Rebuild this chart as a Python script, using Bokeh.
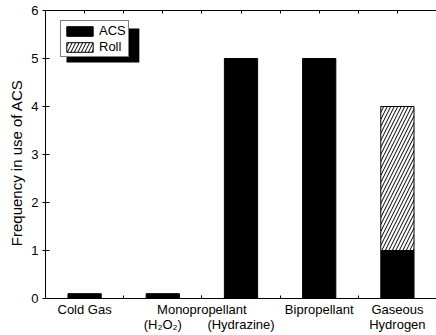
from bokeh.plotting import figure
from bokeh.models import (LinearAxis, FixedTicker, Range1d, Legend, LegendItem,
                          BoxAnnotation, ColumnDataSource)
from bokeh.embed import file_html
from bokeh.resources import INLINE

# ---- data ----
categories = ["Cold Gas", "Monopropellant (H\u2082O\u2082)", "Monopropellant (Hydrazine)",
              "Bipropellant", "Gaseous Hydrogen"]
acs = [0.1, 0.1, 5, 5, 1]
roll = [0, 0, 0, 0, 3]
tick_labels = {1: "Cold Gas", 3: "\n(H\u2082O\u2082)", 4: "Monopropellant",
               5: "\n(Hydrazine)", 7: "Bipropellant", 9: "Gaseous\nHydrogen"}
y_ticks = [0, 1, 2, 3, 4, 5, 6]
x_minor = list(range(0, 11))
y_title = "Frequency in use of ACS"

FONT = "Liberation Sans"
xpos = [1 + 2 * i for i in range(len(categories))]

p = figure(width=436, height=335, x_range=Range1d(0, 10), y_range=Range1d(0, 6),
           output_backend="svg", toolbar_location=None,
           min_border_left=45, min_border_right=0, min_border_top=10, min_border_bottom=37)
p.outline_line_color = None
p.xgrid.visible = False
p.ygrid.visible = False
p.background_fill_color = "white"

src_acs = ColumnDataSource(dict(x=xpos, top=acs, bottom=[0] * len(acs)))
r_acs = p.vbar(x="x", top="top", bottom="bottom", width=0.85, source=src_acs,
               fill_color="black", line_color="black", line_width=1)

rx = [x for x, r in zip(xpos, roll) if r > 0]
rb = [a for a, r in zip(acs, roll) if r > 0]
rt = [a + r for a, r in zip(acs, roll) if r > 0]
src_roll = ColumnDataSource(dict(x=rx, top=rt, bottom=rb))
r_roll = p.vbar(x="x", top="top", bottom="bottom", width=0.85, source=src_roll,
                fill_color="white", line_color="black", line_width=1,
                hatch_pattern="/", hatch_color="black", hatch_scale=7, hatch_weight=1)

# x axis (bottom)
xa = p.xaxis[0]
xa.ticker = FixedTicker(ticks=sorted(tick_labels.keys()), minor_ticks=x_minor)
xa.major_label_overrides = dict(tick_labels)
xa.major_tick_in = 3
xa.major_tick_out = 0
xa.minor_tick_in = 3
xa.minor_tick_out = 0
xa.major_label_standoff = 3
xa.major_label_text_font = FONT
xa.major_label_text_font_size = "13px"
xa.major_label_text_line_height = 1.0
xa.major_label_text_color = "black"
xa.axis_line_color = "black"
xa.major_tick_line_color = "black"
xa.minor_tick_line_color = "black"

# y axis
ya = p.yaxis[0]
ya.ticker = FixedTicker(ticks=y_ticks)
ya.major_tick_in = 4
ya.major_tick_out = 3
ya.minor_tick_line_color = None
ya.major_label_standoff = 4
ya.major_label_text_font = FONT
ya.major_label_text_font_size = "13px"
ya.major_label_text_color = "black"
ya.axis_label = y_title + "\u00a0" * 4
ya.axis_label_text_font = FONT
ya.axis_label_text_font_size = "15px"
ya.axis_label_text_font_style = "normal"
ya.axis_label_text_color = "black"
ya.axis_label_standoff = 3
ya.axis_line_color = "black"
ya.major_tick_line_color = "black"

# top axis (ticks only, no labels)
ta = LinearAxis(ticker=FixedTicker(ticks=[], minor_ticks=x_minor))
ta.major_tick_line_color = None
ta.minor_tick_in = 3
ta.minor_tick_out = 0
ta.minor_tick_line_color = "black"
ta.major_label_standoff = 0
ta.axis_line_color = "black"
p.add_layout(ta, "above")

# legend shadow
shadow = BoxAnnotation(left=0.537, right=2.40, top=5.625, bottom=4.917,
                       fill_color="black", fill_alpha=1, line_color=None)
p.add_layout(shadow)

legend = Legend(items=[LegendItem(label="ACS", renderers=[r_acs]),
                       LegendItem(label="Roll", renderers=[r_roll])],
                location=(15, 241), margin=0, padding=2, spacing=1,
                glyph_width=33, glyph_height=12, label_height=12, label_standoff=3,
                label_text_font=FONT, label_text_font_size="13px",
                label_text_color="black", border_line_color="black",
                border_line_width=1, background_fill_color="white",
                background_fill_alpha=1)
p.add_layout(legend)

open("out.html", "w").write(file_html(p, INLINE))
